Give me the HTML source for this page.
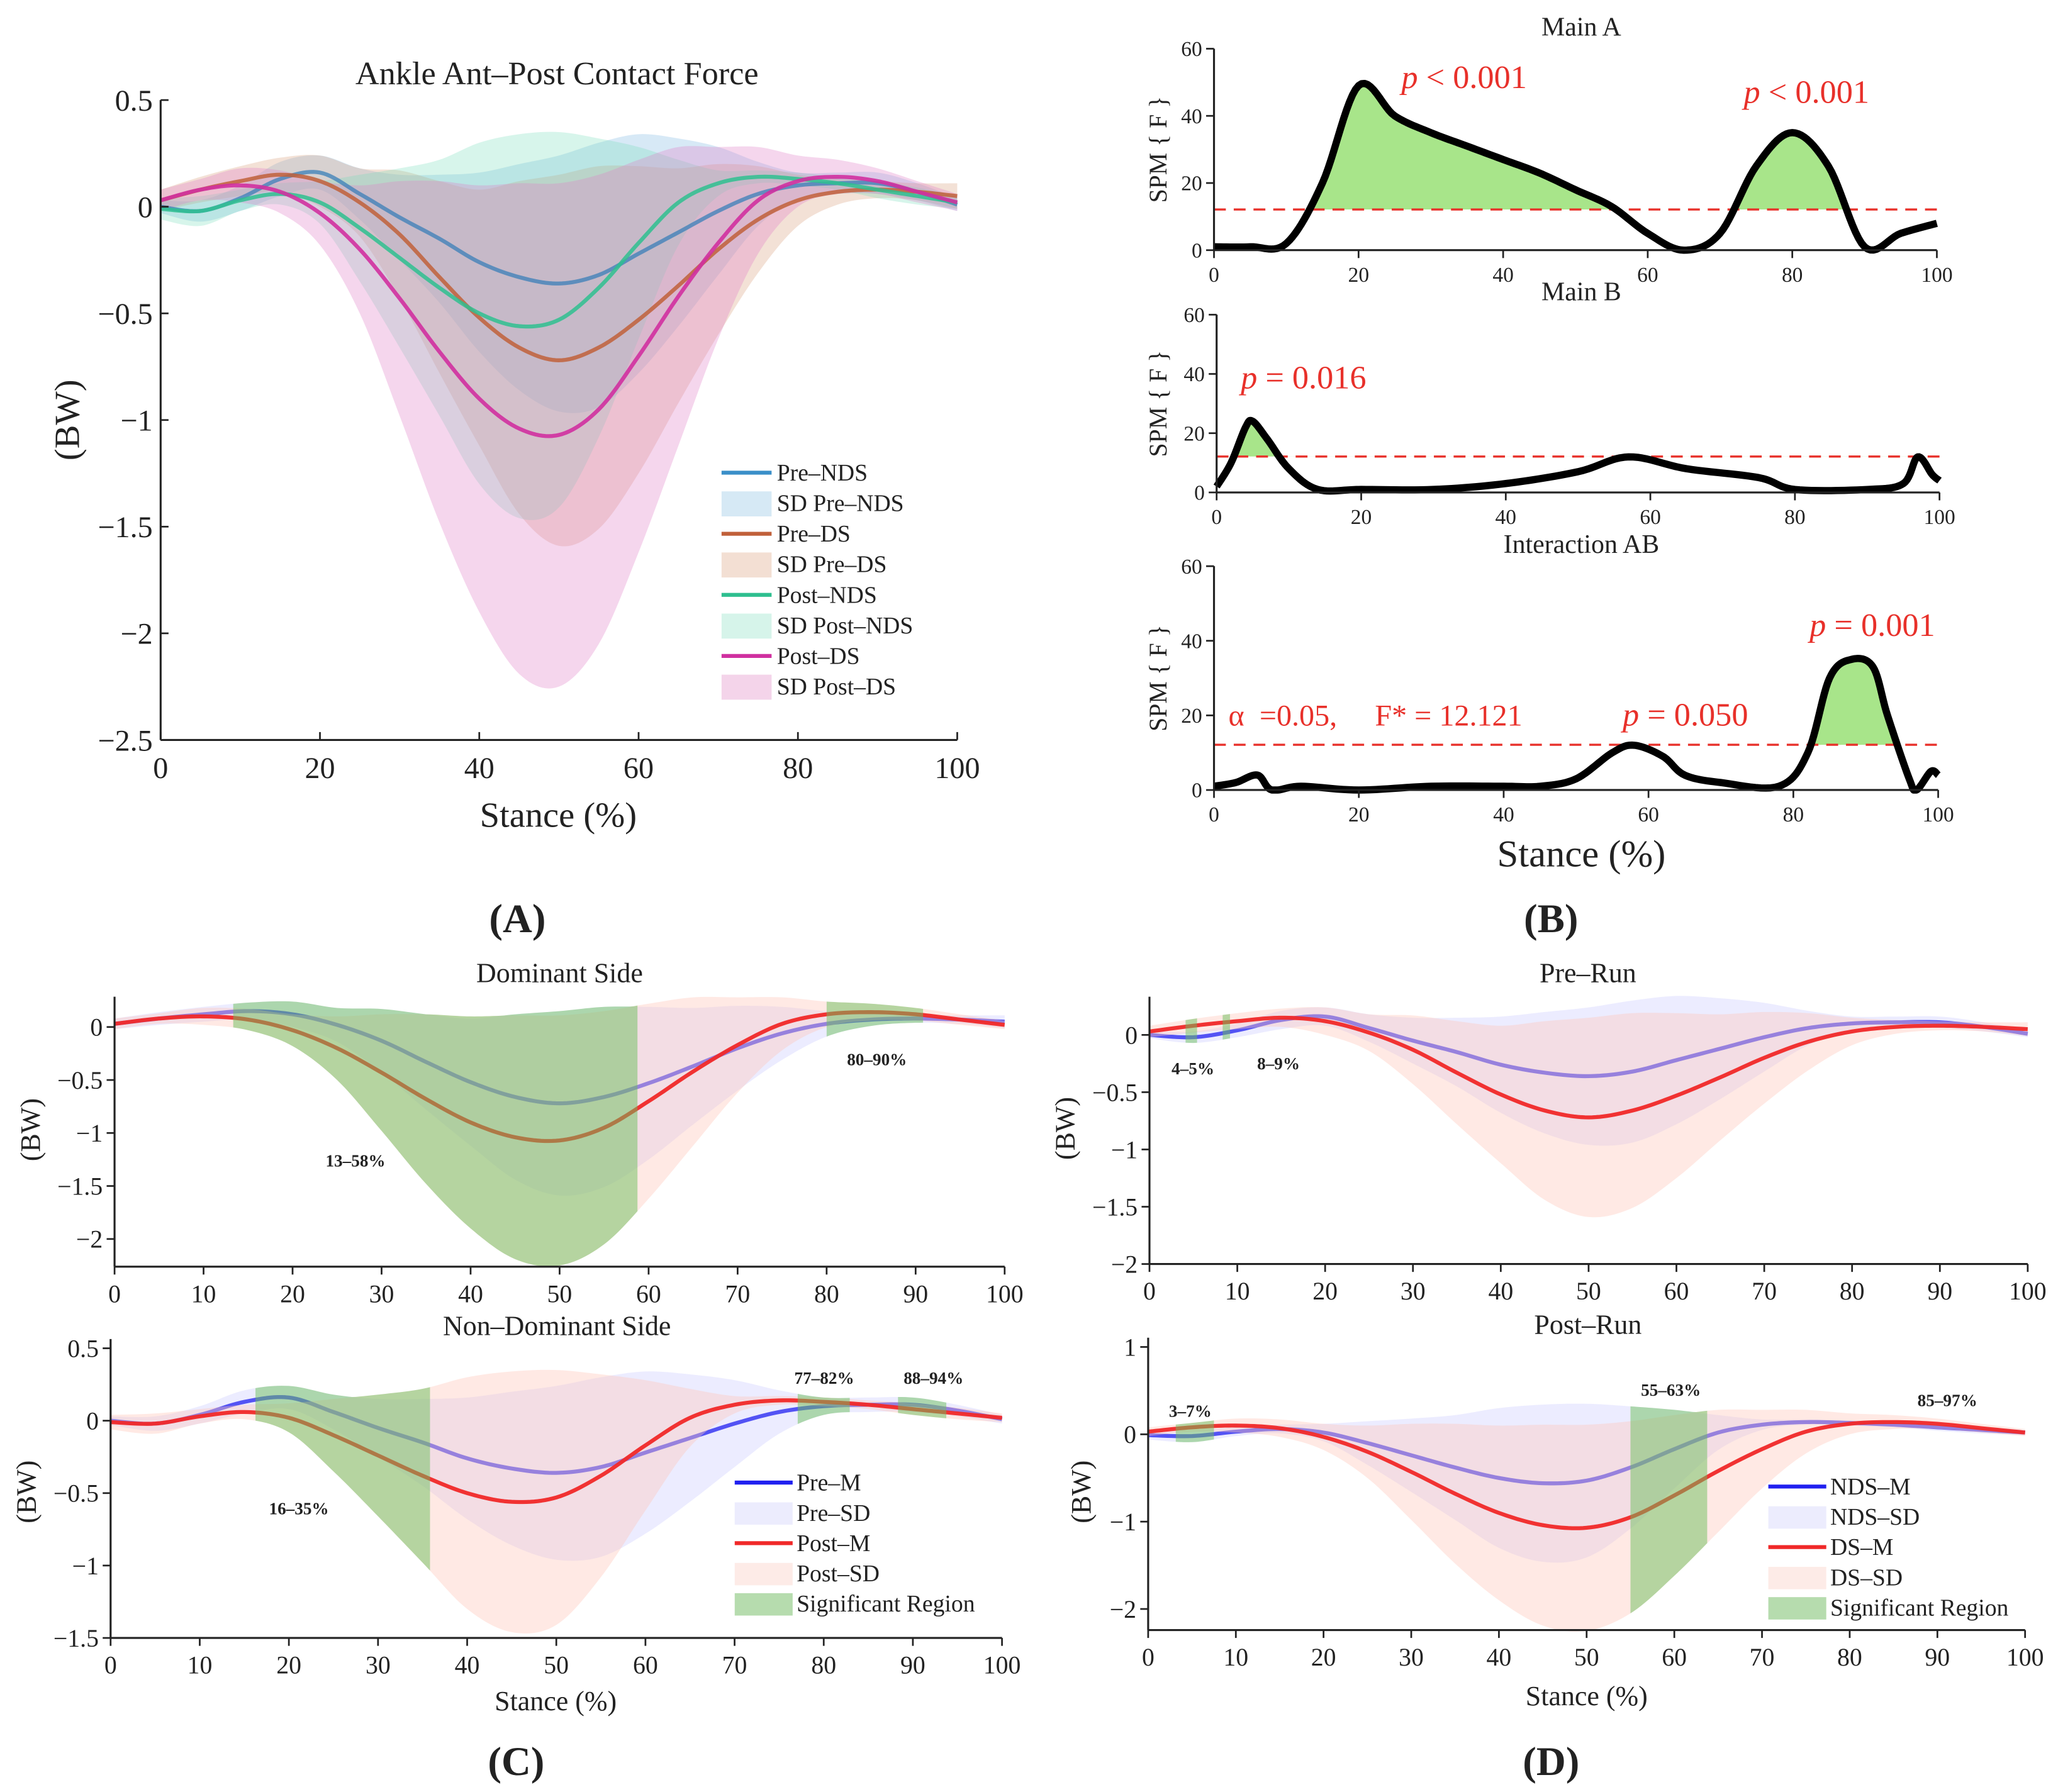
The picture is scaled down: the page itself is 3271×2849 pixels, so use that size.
<!DOCTYPE html>
<html><head><meta charset="utf-8"><style>
html,body{margin:0;padding:0;background:#fff}
svg{display:block}
text{font-family:"Liberation Serif",serif;fill:#222;white-space:pre}
</style></head><body>
<svg id="fig" xmlns="http://www.w3.org/2000/svg" width="3271" height="2849" viewBox="0 0 1563 1361" preserveAspectRatio="none"></svg>
<script>
// ---------- data ----------
const X=[0,5,10,15,20,25,30,35,40,45,50,55,60,65,70,75,80,85,90,95,100];
const preNDS=[0,-0.02,0.04,0.13,0.16,0.06,-0.05,-0.15,-0.26,-0.33,-0.36,-0.32,-0.22,-0.12,-0.02,0.06,0.1,0.11,0.11,0.07,0.01];
const preNDSsd=[0.03,0.05,0.06,0.08,0.08,0.12,0.2,0.3,0.42,0.53,0.6,0.62,0.56,0.44,0.3,0.15,0.06,0.05,0.05,0.04,0.03];
const preDS=[0.03,0.08,0.12,0.15,0.12,0.02,-0.13,-0.33,-0.52,-0.66,-0.72,-0.66,-0.53,-0.37,-0.2,-0.06,0.03,0.07,0.08,0.07,0.05];
const preDSsd=[0.05,0.06,0.07,0.08,0.12,0.16,0.3,0.45,0.6,0.78,0.87,0.85,0.72,0.55,0.4,0.25,0.12,0.06,0.04,0.04,0.06];
const postNDS=[-0.01,-0.02,0.03,0.06,0.02,-0.1,-0.24,-0.38,-0.5,-0.56,-0.53,-0.38,-0.17,0.02,0.11,0.14,0.13,0.11,0.08,0.05,0.02];
const postNDSsd=[0.05,0.07,0.05,0.05,0.1,0.25,0.42,0.6,0.8,0.9,0.88,0.7,0.45,0.2,0.06,0.03,0.03,0.03,0.04,0.04,0.03];
const postDS=[0.03,0.08,0.1,0.07,-0.03,-0.2,-0.43,-0.68,-0.9,-1.04,-1.07,-0.95,-0.7,-0.42,-0.17,0.03,0.12,0.14,0.12,0.07,0.02];
const postDSsd=[0.05,0.05,0.08,0.1,0.15,0.3,0.55,0.8,1.0,1.15,1.18,1.1,0.92,0.7,0.45,0.25,0.12,0.08,0.06,0.05,0.04];

const spmAx=[0,5,10,15,20,25,30,35,40,45,50,55,60,65,70,75,80,85,90,95,100];
const spmA=[1,1,2,20,49,40,35,31,27,23,18,13,5,0,5,25,35,25,1,5,8];
const spmBx=[0,2,4,5,7,10,14,20,30,40,50,57,65,75,80,90,95,97,99,100];
const spmB=[2,10,22,24,18,8,1,1,1,3,7,12,8,5,1,1,3,12,6,4];
const spmIx=[0,3,6,8,12,20,30,40,45,50,55,58,62,65,70,78,82,85,88,91,93,96,97,99,100];
const spmI=[1,2,4,0,1,0,1,1,1,3,10,12,9,4,2,1,10,30,35,33,20,3,0,5,4];
const threshold=12.121;

const sigDom=[[13,59],[80,91]];
const sigNon=[[16,36],[77,83],[88,94]];
const sigPre=[[4,5.5],[8,9.5]];
const sigPost=[[3,7.5],[55,64]];

// ---------- helpers ----------
const svg=document.getElementById('fig');
const NS='http://www.w3.org/2000/svg';
function mk(tag,attrs,name,parent){
  const e=document.createElementNS(NS,tag);
  for(const k in attrs)e.setAttribute(k,attrs[k]);
  
  
  (parent||svg).appendChild(e);return e;
}
function txt(x,y,s,size,name,opts){
  opts=opts||{};
  const a={x:x,y:y,'font-size':size,'text-anchor':opts.anchor||'middle'};
  if(opts.rot)a.transform='rotate(-90 '+x+' '+y+')';
  if(opts.fill)a.style='fill:'+opts.fill;
  if(opts.weight)a['font-weight']=opts.weight;
  if(opts.italic)a['font-style']='italic';
  const t=mk('text',a,name);t.textContent=s;return t;
}
function dense(xs,ys){
  const out=[];const n=xs.length;
  for(let i=0;i<n-1;i++){
    const x0=xs[Math.max(i-1,0)],x1=xs[i],x2=xs[i+1],x3=xs[Math.min(i+2,n-1)];
    const y0=ys[Math.max(i-1,0)],y1=ys[i],y2=ys[i+1],y3=ys[Math.min(i+2,n-1)];
    for(let s=0;s<12;s++){const t=s/12,t2=t*t,t3=t2*t;
      const f=(p0,p1,p2,p3)=>0.5*((2*p1)+(-p0+p2)*t+(2*p0-5*p1+4*p2-p3)*t2+(-p0+3*p1-3*p2+p3)*t3);
      out.push([f(x0,x1,x2,x3),f(y0,y1,y2,y3)]);}
  }
  out.push([xs[n-1],ys[n-1]]);return out;
}
function add(a,b,s){return a.map((v,i)=>v+s*b[i]);}
function mkAx(x0,x1,va,pa,vb,pb){
  return {sx:v=>x0+(x1-x0)*v/100, sy:v=>pa+(v-va)*(pb-pa)/(vb-va), x0:x0,x1:x1};
}
function pathOf(ax,pts){return pts.map((p,i)=>(i?'L':'M')+ax.sx(p[0]).toFixed(2)+' '+ax.sy(p[1]).toFixed(2)).join(' ');}
function line(ax,xs,ys,color,w,name,op){
  mk('path',{d:pathOf(ax,dense(xs,ys)),fill:'none',stroke:color,'stroke-width':w,'stroke-linejoin':'round',opacity:op||1},name);
}
function band(ax,mean,sd,color,op,name){
  const up=dense(X,add(mean,sd,1)),lo=dense(X,add(mean,sd,-1)).reverse();
  mk('path',{d:pathOf(ax,up.concat(lo))+' Z',fill:color,'fill-opacity':op,stroke:'none'},name);
}
function sig(ax,r,bands,name){
  const ups=bands.map(b=>dense(X,add(b[0],b[1],1))),los=bands.map(b=>dense(X,add(b[0],b[1],-1)));
  const top=[],bot=[];
  for(let i=0;i<ups[0].length;i++){const x=ups[0][i][0];
    if(x>=r[0]&&x<=r[1]){top.push([x,Math.max(...ups.map(u=>u[i][1]))]);bot.push([x,Math.min(...los.map(u=>u[i][1]))]);}}
  mk('path',{d:pathOf(ax,top.concat(bot.reverse()))+' Z',fill:'#6cbf5c','fill-opacity':0.5,stroke:'none'},name);
}
function axes(ax,yTopPix,yBotPix,xt,yt,fs,inward,pre){
  mk('line',{x1:ax.x0,y1:yTopPix,x2:ax.x0,y2:yBotPix,stroke:'#222','stroke-width':1.5},pre+'-y-axis');
  mk('line',{x1:ax.x0,y1:yBotPix,x2:ax.x1,y2:yBotPix,stroke:'#222','stroke-width':1.5},pre+'-x-axis');
  const tl=inward?-6:6;
  xt.forEach(v=>{mk('line',{x1:ax.sx(v),y1:yBotPix,x2:ax.sx(v),y2:yBotPix+tl,stroke:'#222','stroke-width':1.3},pre+'-x-tick');
    txt(ax.sx(v),yBotPix+fs+(inward?6:8),String(v),fs,pre+'-x-tick-label');});
  yt.forEach(v=>{const y=ax.sy(v);mk('line',{x1:ax.x0,y1:y,x2:ax.x0+(inward?6:-6),y2:y,stroke:'#222','stroke-width':1.3},pre+'-y-tick');
    txt(ax.x0-(inward?6:9),y+fs*0.35,String(v).replace('-','\u2212'),fs,pre+'-y-tick-label',{anchor:'end'});});
}
const X10=[0,10,20,30,40,50,60,70,80,90,100];

// ---------- Panel A ----------
const A=mkAx(122,727,0.5,76,-2.5,562);
txt(423,64,'Ankle Ant\u2013Post Contact Force',25,'panel-a-title');
band(A,preNDS,preNDSsd,'#6fb0de',0.28,'band-pre-nds');
band(A,preDS,preDSsd,'#d89a78',0.3,'band-pre-ds');
band(A,postNDS,postNDSsd,'#70dcb8',0.28,'band-post-nds');
band(A,postDS,postDSsd,'#e080c8',0.32,'band-post-ds');
line(A,X,preNDS,'#3a7fb8',3,'line-pre-nds',0.75);
line(A,X,preDS,'#c0603a',3,'line-pre-ds',0.85);
line(A,X,postNDS,'#2ebf8f',3,'line-post-nds',0.85);
line(A,X,postDS,'#d030a0',3,'line-post-ds',0.9);
axes(A,76,562,[0,20,40,60,80,100],[0.5,0,-0.5,-1,-1.5,-2,-2.5],23,true,'panel-a');
txt(60,319,'(BW)',27,'panel-a-y-title',{rot:true});
txt(424,628,'Stance (%)',27,'panel-a-x-title');
const legA=[['Pre\u2013NDS','#3a8fc8',0],['SD Pre\u2013NDS','#d6e9f5',1],['Pre\u2013DS','#c0603a',0],['SD Pre\u2013DS','#f3dfd3',1],['Post\u2013NDS','#2ebf8f',0],['SD Post\u2013NDS','#d6f4ea',1],['Post\u2013DS','#d030a0',0],['SD Post\u2013DS','#f4d4ea',1]];
legA.forEach((e,i)=>{const y=359+i*23.2;
  if(e[2])mk('rect',{x:548,y:y-9,width:38,height:19,fill:e[1]},'legend-a-swatch');
  else mk('line',{x1:548,y1:y,x2:586,y2:y,stroke:e[1],'stroke-width':3},'legend-a-line');
  txt(590,y+6,e[0],18,'legend-a-entry',{anchor:'start'});});
txt(393,708,'(A)',31,'panel-a-label',{weight:'bold'});

// ---------- Panel B ----------
function spmPanel(ax,yTop,yBot,xs,ys,title,tY,pre){
  const pts=dense(xs,ys).map(p=>[p[0],Math.max(p[1],0)]);
  const clip=pts.map(p=>[p[0],Math.max(p[1],threshold)]);
  mk('path',{d:pathOf(ax,clip)+' L'+ax.sx(100)+' '+ax.sy(threshold)+' L'+ax.sx(0)+' '+ax.sy(threshold)+' Z',fill:'#a8e58a',stroke:'none'},pre+'-suprathreshold');
  mk('line',{x1:ax.sx(0),y1:ax.sy(threshold),x2:ax.sx(100),y2:ax.sy(threshold),stroke:'#e8302a','stroke-width':1.6,'stroke-dasharray':'9,6'},pre+'-threshold');
  mk('path',{d:pathOf(ax,pts),fill:'none',stroke:'#000','stroke-width':5.5,'stroke-linejoin':'round'},pre+'-spm-curve');
  axes(ax,yTop,yBot,[0,20,40,60,80,100],[0,20,40,60],16,false,pre);
  txt(ax.x0,tY,title,20,pre+'-title').setAttribute('x',1201);
  txt(886,(yTop+yBot)/2,'SPM { F }',19,pre+'-y-title',{rot:true});
}
const B1=mkAx(922,1471,60,37,0,190);
spmPanel(B1,37,190,spmAx,spmA,'Main A',27,'main-a');
const B2=mkAx(924,1473,60,239,0,374);
spmPanel(B2,239,374,spmBx,spmB,'Main B',228,'main-b');
const B3=mkAx(922,1472,60,430,0,600);
spmPanel(B3,430,600,spmIx,spmI,'Interaction AB',420,'interaction-ab');
function pv(x,y,s,name){const t=txt(x,y,'',25,name,{fill:'#e8302a'});
  const a=document.createElementNS(NS,'tspan');a.setAttribute('font-style','italic');a.textContent='p';t.appendChild(a);
  t.appendChild(document.createTextNode(s));}
pv(1112,67,' < 0.001','p-main-a-1');
pv(1372,78,' < 0.001','p-main-a-2');
pv(990,295,' = 0.016','p-main-b');
pv(1280,551,' = 0.050','p-interaction-1');
pv(1422,483,' = 0.001','p-interaction-2');
txt(933,551,'\u03b1  =0.05,     F* = 12.121',23,'alpha-fstar-label',{anchor:'start',fill:'#e8302a'});
txt(1201,658,'Stance (%)',29,'panel-b-x-title');
txt(1178,708,'(B)',31,'panel-b-label',{weight:'bold'});

// ---------- Panel C/D ----------
const cPre='#2020f0',cPost='#f02828',bPre='#c8c8ff',bPost='#ffc8bc';
function cmp(ax,yTop,yBot,m1,s1,m2,s2,sigs,yt,pre){
  band(ax,m1,s1,bPre,0.35,pre+'-pre-sd');
  line(ax,X,m1,cPre,3,pre+'-pre-mean',0.75);
  band(ax,m2,s2,bPost,0.4,pre+'-post-sd');
  line(ax,X,m2,cPost,3,pre+'-post-mean',0.95);
  sigs.forEach(r=>sig(ax,r,[[m1,s1],[m2,s2]],pre+'-significant-region'));
  axes(ax,yTop,yBot,X10,yt,19,false,pre);
}
const C1=mkAx(87,763,0,780,-2,941);
cmp(C1,757,962,preDS,preDSsd,postDS,postDSsd,sigDom,[0,-0.5,-1,-1.5,-2],'dominant');
txt(425,746,'Dominant Side',21,'dominant-title');
txt(30,858,'(BW)',21,'dominant-y-title',{rot:true});
txt(270,886,'13\u201358%',13,'label-13-58',{weight:'bold'});
txt(666,809,'80\u201390%',13,'label-80-90',{weight:'bold'});

const C2=mkAx(84,761,0.5,1024,-1.5,1244);
cmp(C2,1017,1244,preNDS,preNDSsd,postNDS,postNDSsd,sigNon,[0.5,0,-0.5,-1,-1.5],'non-dominant');
txt(423,1014,'Non\u2013Dominant Side',21,'non-dominant-title');
txt(27,1133,'(BW)',21,'non-dominant-y-title',{rot:true});
txt(227,1150,'16\u201335%',13,'label-16-35',{weight:'bold'});
txt(626,1051,'77\u201382%',13,'label-77-82',{weight:'bold'});
txt(709,1051,'88\u201394%',13,'label-88-94',{weight:'bold'});
txt(422,1299,'Stance (%)',21,'panel-c-x-title');
txt(392,1348,'(C)',31,'panel-c-label',{weight:'bold'});

const D1=mkAx(873,1540,0,786,-2,960);
cmp(D1,757,960,preNDS,preNDSsd,preDS,preDSsd,sigPre,[0,-0.5,-1,-1.5,-2],'pre-run');
txt(1206,746,'Pre\u2013Run',21,'pre-run-title');
txt(816,857,'(BW)',21,'pre-run-y-title',{rot:true});
txt(906,816,'4\u20135%',13,'label-4-5',{weight:'bold'});
txt(971,812,'8\u20139%',13,'label-8-9',{weight:'bold'});

const D2=mkAx(872,1538,1,1023,-2,1222);
cmp(D2,1016,1238,postNDS,postNDSsd,postDS,postDSsd,sigPost,[1,0,-1,-2],'post-run');
txt(1206,1013,'Post\u2013Run',21,'post-run-title');
txt(828,1133,'(BW)',21,'post-run-y-title',{rot:true});
txt(904,1076,'3\u20137%',13,'label-3-7',{weight:'bold'});
txt(1269,1060,'55\u201363%',13,'label-55-63',{weight:'bold'});
txt(1479,1068,'85\u201397%',13,'label-85-97',{weight:'bold'});
txt(1205,1295,'Stance (%)',21,'panel-d-x-title');
txt(1178,1348,'(D)',31,'panel-d-label',{weight:'bold'});

function leg(x,y0,names,pre){
  const cols=[[cPre,0],['#ececfd',1],[cPost,0],['#fdebe7',1],['#b6dcae',1]];
  names.forEach((n,i)=>{const y=y0+i*23;
    if(cols[i][1])mk('rect',{x:x,y:y-8,width:44,height:17,fill:cols[i][0]},pre+'-swatch');
    else mk('line',{x1:x,y1:y,x2:x+44,y2:y,stroke:cols[i][0],'stroke-width':3},pre+'-line');
    txt(x+47,y+6,n,18,pre+'-entry',{anchor:'start'});});
}
leg(558,1126,['Pre\u2013M','Pre\u2013SD','Post\u2013M','Post\u2013SD','Significant Region'],'legend-c');
leg(1343,1129,['NDS\u2013M','NDS\u2013SD','DS\u2013M','DS\u2013SD','Significant Region'],'legend-d');
</script>
</body></html>
